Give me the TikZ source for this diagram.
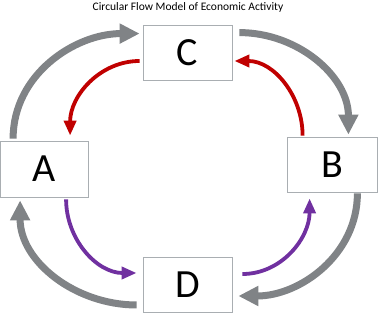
\documentclass[tikz,border=0pt]{standalone}
\usepackage{fontspec}
\setmainfont{Carlito}
\usetikzlibrary{arrows.meta, positioning, calc}
\definecolor{cGray}{HTML}{808386}
\definecolor{cRed}{HTML}{C00000}
\definecolor{cPurple}{HTML}{7030A0}
\definecolor{cBorder}{HTML}{A9AEB2}

\begin{document}
\begin{tikzpicture}[
  x=1pt, y=1pt,
  flowbox/.style={draw=cBorder, fill=white, line width=0.8pt,
    minimum width=89pt, minimum height=55pt, inner sep=0pt,
    font=\fontsize{40}{40}\selectfont},
  grayflow/.style={draw=cGray, line width=7pt,
    -{Triangle[length=20pt, width=19pt]}},
  redflow/.style={draw=cRed, line width=3.8pt,
    -{Triangle[length=15pt, width=12pt]}},
  purpleflow/.style={draw=cPurple, line width=3.8pt,
    -{Triangle[length=15pt, width=12pt]}}
]
  \useasboundingbox (0,0) rectangle (381,313);

  \node[font=\fontsize{11.5}{11.5}\selectfont] (title) at (188,306)
    {Circular Flow Model of Economic Activity};

  \node[flowbox] (C) at (187.5,260.5) {C};
  \node[flowbox, minimum width=88pt, minimum height=56pt] (A) at (44.5,144) {A};
  \node[flowbox, minimum width=90pt] (B) at (332,148.5) {B};
  \node[flowbox] (D) at (187.5,28) {D};

  % outer ring
  \draw[grayflow] ([shift={(13,2)}]A.north west) to[out=90, in=180]
    ([shift={(-3,-9)}]C.north west);
  \draw[grayflow] ([shift={(7,-8)}]C.north east) to[out=0, in=90]
    ([shift={(-29,2)}]B.north east);
  \draw[grayflow] ([shift={(-20,-1)}]B.south east) to[out=-90, in=0]
    ([shift={(6,-11)}]D.east);
  \draw[grayflow] ([shift={(-6,-20)}]D.west) to[out=180, in=-90]
    ([shift={(20,-3)}]A.south west);

  % inner ring, upper half
  \draw[redflow] ([shift={(-3,-8.5)}]C.west) to[out=180, in=90]
    ([shift={(70,5)}]A.north west);
  \draw[redflow] ([shift={(16,1)}]B.north west) to[out=90, in=0]
    ([shift={(2,-8.5)}]C.east);

  % inner ring, lower half
  \draw[purpleflow] ([shift={(66,-2)}]A.south west) to[out=-90, in=180]
    ([shift={(-6,12)}]D.west);
  \draw[purpleflow] ([shift={(10,11)}]D.east) to[out=0, in=-90]
    ([shift={(23,-6)}]B.south west);

\end{tikzpicture}
\end{document}
